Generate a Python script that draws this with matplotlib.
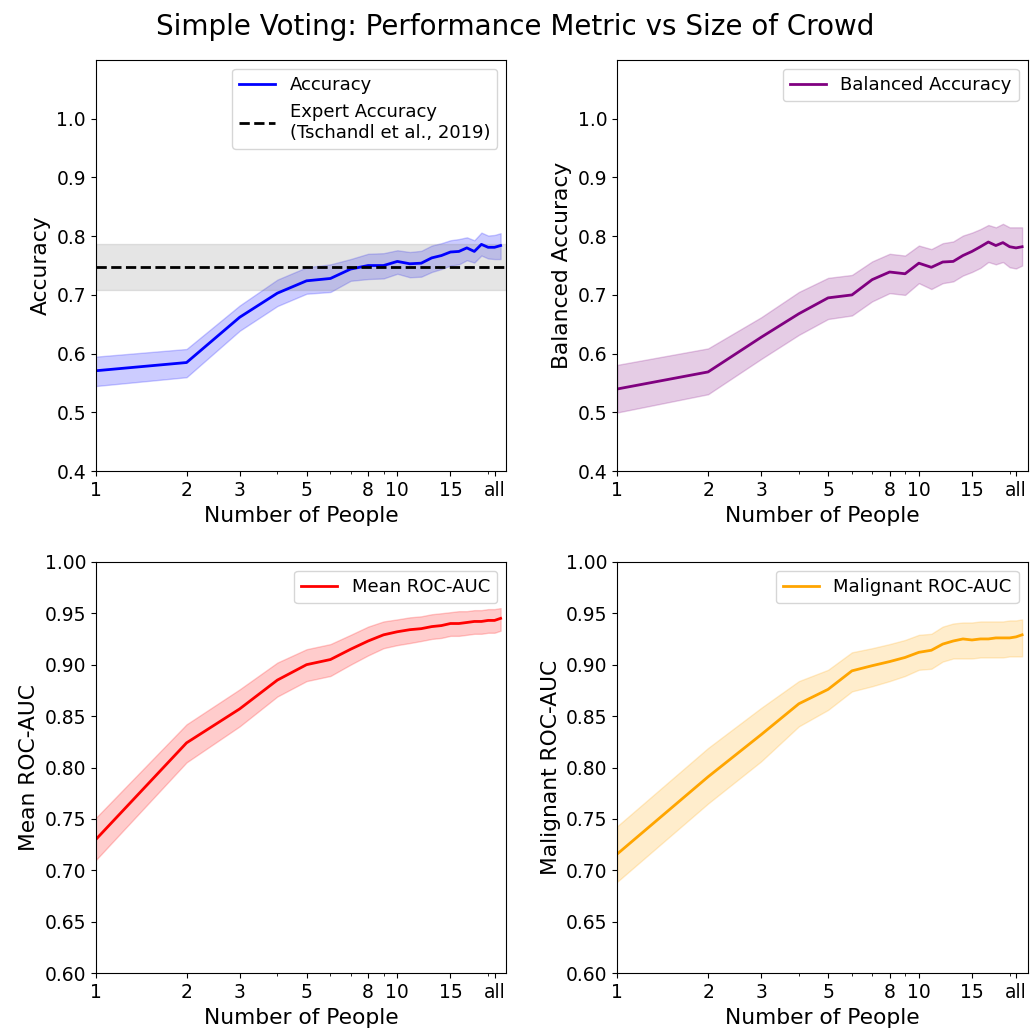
import matplotlib
matplotlib.use("Agg")
import matplotlib.pyplot as plt
from matplotlib.ticker import NullFormatter
import numpy as np

# number of people in the crowd (last point = everyone)
n_people = list(range(1, 23))
tick_pos = [1, 2, 3, 5, 8, 10, 15, 21]
tick_labels = ["1", "2", "3", "5", "8", "10", "15", "all"]

acc = [0.571, 0.585, 0.662, 0.703, 0.724, 0.728, 0.744, 0.750, 0.750, 0.757, 0.753,
       0.754, 0.763, 0.767, 0.773, 0.774, 0.780, 0.774, 0.786, 0.781, 0.781, 0.784]
acc_lo = [0.545, 0.560, 0.639, 0.681, 0.702, 0.705, 0.724, 0.727, 0.728, 0.736, 0.730,
          0.731, 0.739, 0.744, 0.750, 0.752, 0.759, 0.755, 0.767, 0.762, 0.761, 0.761]
acc_hi = [0.595, 0.608, 0.682, 0.726, 0.747, 0.752, 0.761, 0.770, 0.771, 0.776, 0.773,
          0.775, 0.784, 0.788, 0.793, 0.795, 0.798, 0.793, 0.806, 0.801, 0.802, 0.805]

expert_acc = 0.748
expert_lo = 0.709
expert_hi = 0.787

bal = [0.540, 0.569, 0.628, 0.668, 0.695, 0.700, 0.726, 0.739, 0.736, 0.754, 0.747,
       0.756, 0.757, 0.767, 0.774, 0.782, 0.790, 0.784, 0.789, 0.782, 0.780, 0.782]
bal_lo = [0.500, 0.531, 0.591, 0.632, 0.659, 0.665, 0.689, 0.703, 0.700, 0.720, 0.710,
          0.720, 0.723, 0.733, 0.739, 0.746, 0.756, 0.752, 0.756, 0.747, 0.745, 0.750]
bal_hi = [0.581, 0.609, 0.662, 0.705, 0.729, 0.734, 0.757, 0.770, 0.767, 0.784, 0.778,
          0.788, 0.791, 0.801, 0.806, 0.812, 0.819, 0.815, 0.821, 0.815, 0.815, 0.815]

mean_auc = [0.730, 0.824, 0.857, 0.885, 0.900, 0.905, 0.915, 0.923, 0.929, 0.932, 0.934,
            0.935, 0.937, 0.938, 0.940, 0.940, 0.941, 0.942, 0.942, 0.943, 0.943, 0.945]
mean_lo = [0.710, 0.805, 0.840, 0.869, 0.884, 0.889, 0.900, 0.909, 0.916, 0.919, 0.921,
           0.923, 0.925, 0.926, 0.928, 0.928, 0.929, 0.930, 0.930, 0.931, 0.931, 0.933]
mean_hi = [0.751, 0.842, 0.876, 0.902, 0.915, 0.920, 0.929, 0.937, 0.942, 0.944, 0.946,
           0.947, 0.949, 0.950, 0.951, 0.952, 0.952, 0.953, 0.953, 0.954, 0.954, 0.955]

mal_auc = [0.716, 0.791, 0.832, 0.862, 0.876, 0.894, 0.899, 0.903, 0.907, 0.912, 0.914,
           0.920, 0.923, 0.925, 0.924, 0.925, 0.925, 0.926, 0.926, 0.926, 0.927, 0.929]
mal_lo = [0.689, 0.765, 0.806, 0.840, 0.856, 0.874, 0.879, 0.884, 0.889, 0.895, 0.896,
          0.903, 0.906, 0.906, 0.906, 0.907, 0.907, 0.907, 0.907, 0.908, 0.908, 0.908]
mal_hi = [0.743, 0.819, 0.858, 0.884, 0.895, 0.912, 0.916, 0.920, 0.924, 0.929, 0.930,
          0.937, 0.940, 0.941, 0.941, 0.942, 0.942, 0.942, 0.942, 0.943, 0.943, 0.944]

fig, axes = plt.subplots(2, 2, figsize=(10.3, 10.31), dpi=100)
fig.subplots_adjust(left=0.093, right=0.998, bottom=0.056, top=0.942,
                    wspace=0.27, hspace=0.22)
fig.suptitle("Simple Voting: Performance Metric vs Size of Crowd", fontsize=20, y=0.987)

panels = [
    (axes[0, 0], acc, acc_lo, acc_hi, "blue", "Accuracy", "Accuracy"),
    (axes[0, 1], bal, bal_lo, bal_hi, "purple", "Balanced Accuracy", "Balanced Accuracy"),
    (axes[1, 0], mean_auc, mean_lo, mean_hi, "red", "Mean ROC-AUC", "Mean ROC-AUC"),
    (axes[1, 1], mal_auc, mal_lo, mal_hi, "orange", "Malignant ROC-AUC", "Malignant ROC-AUC"),
]

for ax, y, lo, hi, color, label, ylabel in panels:
    ax.plot(n_people, y, color=color, lw=2, label=label)
    ax.fill_between(n_people, lo, hi, color=color, alpha=0.2)
    ax.set_xscale("log")
    ax.set_xlim(1, 23)
    ax.set_xticks(tick_pos)
    ax.set_xticklabels(tick_labels)
    ax.xaxis.set_minor_formatter(NullFormatter())
    ax.set_xlabel("Number of People", fontsize=15.7)
    ax.set_ylabel(ylabel, fontsize=15.7)
    ax.tick_params(labelsize=13.5)

axes[0, 0].axhline(expert_acc, color="black", ls="--", lw=2,
                   label="Expert Accuracy\n(Tschandl et al., 2019)")
axes[0, 0].axhspan(expert_lo, expert_hi, color="gray", alpha=0.2)

for ax in axes[0]:
    ax.set_ylim(0.4, 1.1)
    ax.set_yticks([0.4, 0.5, 0.6, 0.7, 0.8, 0.9, 1.0])
for ax in axes[1]:
    ax.set_ylim(0.6, 1.0)

for ax in axes.flat:
    ax.legend(loc="upper right", fontsize=13)

fig.savefig("out.png")
